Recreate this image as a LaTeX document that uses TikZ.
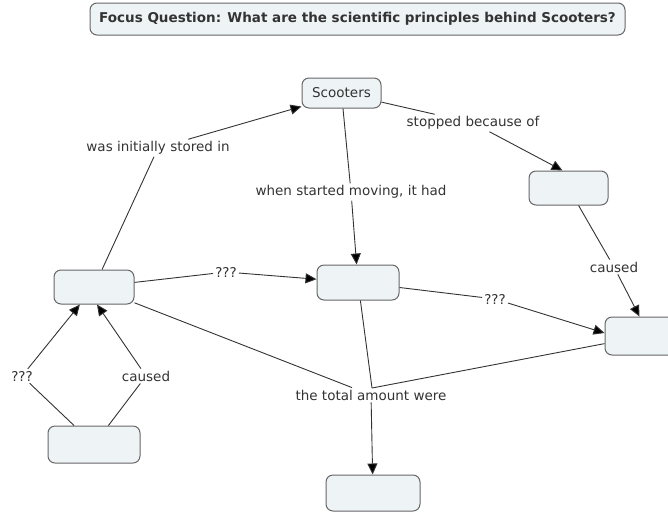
\documentclass[tikz,border=0pt]{standalone}
\usepackage{fontspec}
\setmainfont{DejaVu Sans}
\usetikzlibrary{arrows.meta,calc}
\definecolor{txt}{HTML}{333333}
\definecolor{boxfill}{HTML}{EEF3F6}
\definecolor{boxline}{HTML}{666666}
\tikzset{
  concept/.style={draw=boxline, fill=boxfill, line width=1pt, rounded corners=7pt, inner sep=0pt, text=txt, font=\fontsize{13.5}{15}\selectfont},
  lbl/.style={inner xsep=2pt, inner ysep=2pt, text=txt, font=\fontsize{13.5}{15}\selectfont},
  conn/.style={draw=txt, line width=0.9pt},
  arr/.style={conn, -{Triangle[length=11pt,width=10pt,fill=black]}},
}
\begin{document}
\begin{tikzpicture}[x=1pt,y=-1pt]
\useasboundingbox (0,0) rectangle (668,512);
% concepts
\node[concept, minimum width=535pt, minimum height=32pt, font=\fontsize{13.5}{15}\selectfont\bfseries] (title) at (357.5,19) {Focus Question: What are the scientific principles behind Scooters?};
\node[concept, minimum width=79pt, minimum height=30pt] (scoot) at (341.5,93) {Scooters};
\node[concept, minimum width=79pt, minimum height=34pt] (rt) at (568.5,188) {};
\node[concept, minimum width=79pt, minimum height=38pt] (rb) at (644.5,336) {};
\node[concept, minimum width=80pt, minimum height=34pt] (left) at (94,287) {};
\node[concept, minimum width=82pt, minimum height=35pt] (mid) at (358,282.5) {};
\node[concept, minimum width=92pt, minimum height=37pt] (bl) at (94,444.5) {};
\node[concept, minimum width=94pt, minimum height=36pt] (bot) at (373,493) {};
% linking phrases
\node[lbl] (l1) at (158,148) {was initially stored in};
\node[lbl] (l2) at (351,192) {when started moving, it had};
\node[lbl] (l3) at (473,123) {stopped because of};
\node[lbl] (l4) at (614,267) {caused};
\node[lbl] (l5) at (226,272) {???};
\node[lbl] (l6) at (495,299) {???};
\node[lbl] (l7) at (22,376) {???};
\node[lbl] (l8) at (146,376) {caused};
\node[lbl] (tot) at (371,395) {the total amount were};
\coordinate (j) at (372,388);
% connectors
\draw[conn] (left) -- (l1);
\draw[arr] (l1) -- ($(scoot.south west)+(0,-2)$);
\draw[conn] (scoot) -- (l2);
\draw[arr] (l2) -- (mid);
\draw[conn] (scoot) -- (l3);
\draw[arr] (l3) -- ($(rt.north)+(-6,0)$);
\draw[conn] (rt) -- (l4);
\draw[arr] (l4) -- ($(rb.north)+(-5,0)$);
\draw[conn] (left) -- (l5);
\draw[arr] (l5) -- (mid);
\draw[conn] (mid) -- (l6);
\draw[arr] (l6) -- ($(rb.west)+(0,-3)$);
\draw[conn] (bl) -- (l7);
\draw[arr] (l7) -- (left);
\draw[conn] (bl) -- (l8);
\draw[arr] (l8) -- ($(left.south)+(3,0)$);
\draw[conn] (left) -- (tot);
\draw[conn] (mid) -- (j);
\draw[conn] (rb) -- (j);
\draw[arr] (tot) -- (bot);
\end{tikzpicture}
\end{document}
